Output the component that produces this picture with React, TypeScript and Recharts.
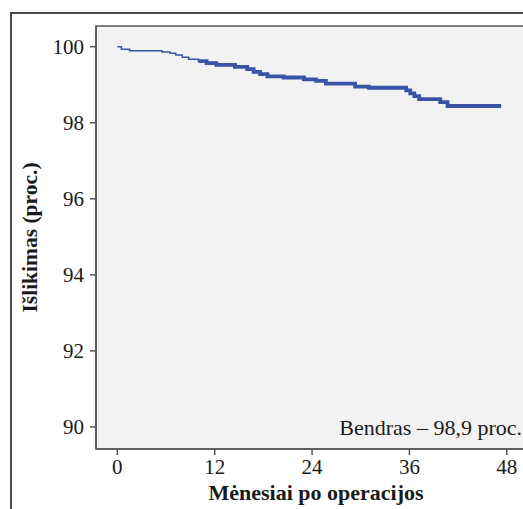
import {
  ComposedChart,
  Line,
  XAxis,
  YAxis,
  ReferenceArea,
  Label,
} from "recharts";

// Kaplan-Meier style survival curve
const BLUE = "#3953a6";
const AXIS = "#555555";
const TEXT = "#1a1a1a";
const BG = "#f2f2f2";
const FONT = "Liberation Serif";

const months = [
  0, 0.5, 1.5, 5.5, 6.5, 7.2, 8.0, 8.8, 10.0, 11.0, 12.2, 14.5, 16.0, 16.8,
  17.6, 18.5, 20.5, 23.0, 24.5, 25.7, 29.3, 31.0, 35.6, 36.1, 36.6, 37.2, 39.8,
  40.7, 47.3,
];
const survival = [
  100, 99.93, 99.89, 99.86, 99.83, 99.78, 99.72, 99.67, 99.62, 99.57, 99.52,
  99.47, 99.41, 99.34, 99.28, 99.22, 99.19, 99.14, 99.1, 99.03, 98.95, 98.92,
  98.85, 98.77, 98.7, 98.62, 98.54, 98.44, 98.44,
];
const xTicks = [0, 12, 24, 36, 48];
const yTicks = [90, 92, 94, 96, 98, 100];
const xDomain: [number, number] = [-2.63, 51.6];
const yDomain: [number, number] = [89.42, 100.544];
const summaryLabel = "Bendras – 98,9 proc.";

const curve = months.map((m, i) => ({ month: m, all: survival[i] }));
// denser censoring marks later on make the line look heavier
const heavy = curve.filter((d) => d.month >= 10);

const tickStyle = { fontSize: 21, fill: TEXT, fontFamily: FONT };

export default function App() {
  return (
    <div
      style={{
        position: "absolute",
        left: 0,
        top: 0,
        width: 523,
        height: 509,
        overflow: "hidden",
        background: "white",
        fontFamily: FONT,
      }}
    >
      <div
        style={{
          position: "absolute",
          left: 10,
          top: 12,
          width: 600,
          height: 600,
          border: "2px solid #4a4a4a",
          boxSizing: "border-box",
        }}
      />
      <div style={{ position: "absolute", left: 0, top: 0 }}>
        <ComposedChart
          width={560}
          height={509}
          data={curve}
          margin={{ top: 26, right: 24, bottom: 0, left: 0 }}
        >
          <ReferenceArea
            x1={xDomain[0]}
            x2={xDomain[1]}
            y1={yDomain[0]}
            y2={yDomain[1]}
            fill={BG}
            fillOpacity={1}
            stroke={AXIS}
            strokeWidth={1.5}
            ifOverflow="visible"
          >
            <Label
              value={summaryLabel}
              position="insideBottomRight"
              offset={14}
              style={{ fontSize: 22, fill: TEXT, fontFamily: FONT }}
            />
          </ReferenceArea>
          <XAxis
            dataKey="month"
            type="number"
            domain={xDomain}
            ticks={xTicks}
            allowDataOverflow
            height={60}
            tick={tickStyle}
            tickSize={6}
            tickMargin={4}
            axisLine={{ stroke: AXIS, strokeWidth: 1.5 }}
            tickLine={{ stroke: AXIS, strokeWidth: 1.5 }}
          >
            <Label
              value="Mėnesiai po operacijos"
              position="insideBottom"
              offset={9}
              style={{
                fontSize: 22,
                fontWeight: "bold",
                fill: TEXT,
                fontFamily: FONT,
              }}
            />
          </XAxis>
          <YAxis
            type="number"
            domain={yDomain}
            ticks={yTicks}
            allowDataOverflow
            width={96}
            tick={tickStyle}
            tickSize={6}
            tickMargin={6}
            axisLine={{ stroke: AXIS, strokeWidth: 1.5 }}
            tickLine={{ stroke: AXIS, strokeWidth: 1.5 }}
          >
            <Label
              value="Išlikimas (proc.)"
              angle={-90}
              position="insideLeft"
              offset={29}
              style={{
                textAnchor: "middle",
                fontSize: 21.5,
                fontWeight: "bold",
                fill: TEXT,
                fontFamily: FONT,
              }}
            />
          </YAxis>
          <Line
            dataKey="all"
            type="stepAfter"
            stroke={BLUE}
            strokeWidth={1.5}
            dot={false}
            isAnimationActive={false}
          />
          <Line
            data={heavy}
            dataKey="all"
            type="stepAfter"
            stroke={BLUE}
            strokeWidth={3.8}
            dot={false}
            isAnimationActive={false}
          />
        </ComposedChart>
      </div>
    </div>
  );
}
